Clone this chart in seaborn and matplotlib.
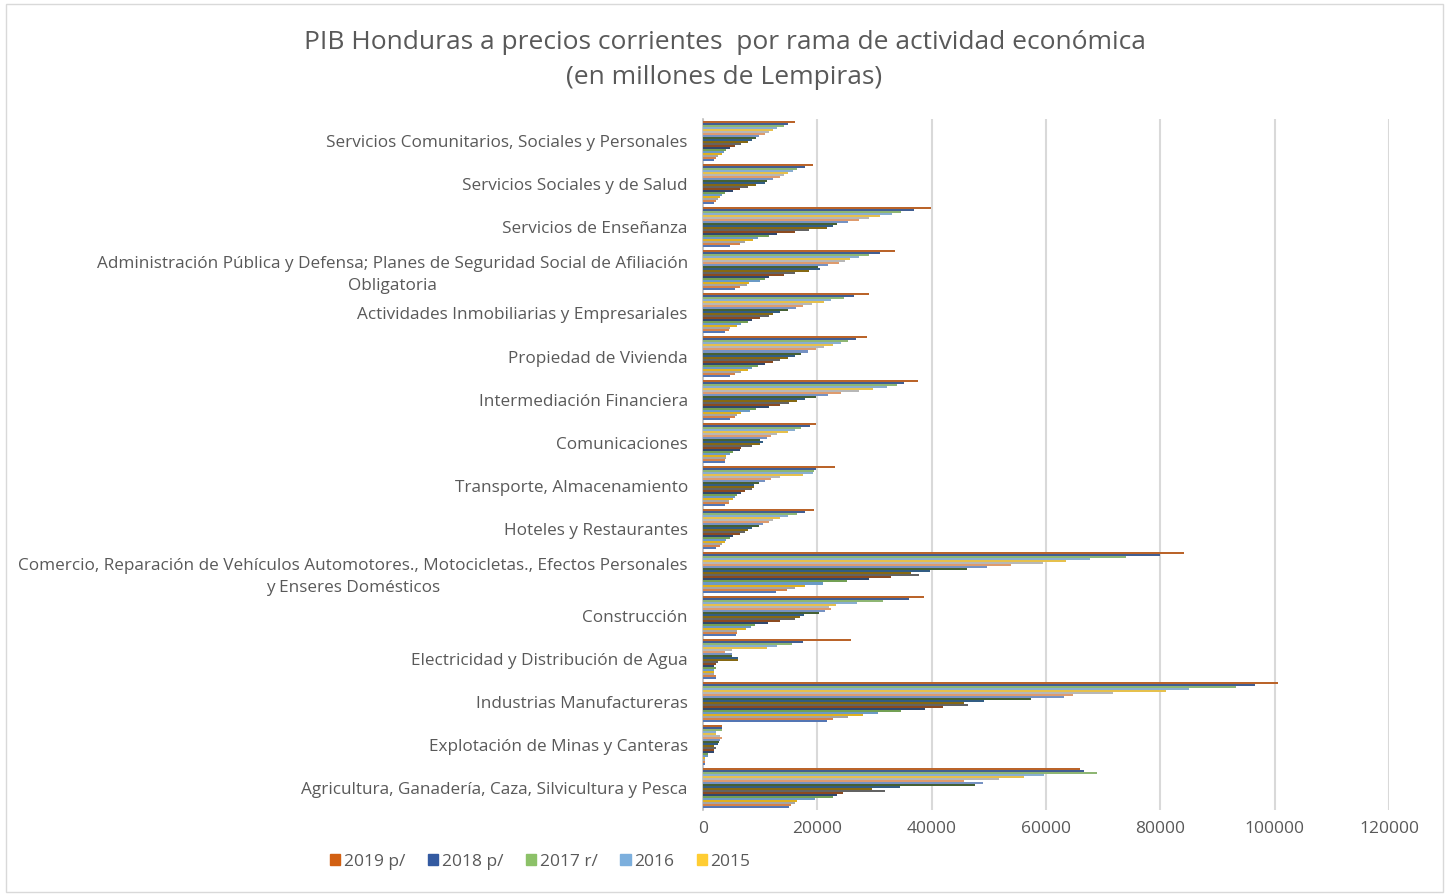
import numpy as np
import pandas as pd
import matplotlib
matplotlib.use('Agg')
import matplotlib.pyplot as plt
import matplotlib.patches as mpatches
import seaborn as sns

# years, top bar of each group first (2019) down to 2000
years = ['2019 p/', '2018 p/', '2017 r/', '2016', '2015', '2014', '2013', '2012', '2011', '2010',
         '2009', '2008', '2007', '2006', '2005', '2004', '2003', '2002', '2001', '2000']

year_colors = ['#D26012', '#335AA1', '#8CC168', '#7CAFDD', '#FFCD33', '#B7B7B7', '#F1975A', '#698ED0',
               '#43682B', '#255E91', '#997300', '#636363', '#9E480E', '#264478', '#70AD47', '#5B9BD5',
               '#FFC000', '#A5A5A5', '#ED7D31', '#4472C4']

ramas = [
    'Servicios Comunitarios, Sociales y Personales',
    'Servicios Sociales y de Salud',
    'Servicios de Enseñanza',
    'Administración Pública y Defensa; Planes de Seguridad Social de Afiliación\nObligatoria',
    'Actividades Inmobiliarias y Empresariales',
    'Propiedad de Vivienda',
    'Intermediación Financiera',
    'Comunicaciones',
    'Transporte, Almacenamiento',
    'Hoteles y Restaurantes',
    'Comercio, Reparación de Vehículos Automotores., Motocicletas., Efectos Personales\ny Enseres Domésticos',
    'Construcción',
    'Electricidad y Distribución de Agua',
    'Industrias Manufactureras',
    'Explotación de Minas y Canteras',
    'Agricultura, Ganadería, Caza, Silvicultura y Pesca',
]

# values per rama, 2019 -> 2000 (millones de Lempiras)
comunitarios = [16000, 14900, 14200, 13000, 12300, 11600, 10900, 9700, 9300, 8600,
                7900, 6700, 5600, 4800, 4100, 3700, 3400, 2700, 2300, 1900]
salud = [19200, 17800, 16400, 15700, 14900, 14200, 13400, 12300, 11200, 10800,
         9300, 7900, 6400, 5200, 3800, 3400, 3000, 2600, 2200, 1900]
ensenanza = [39900, 36900, 34600, 33000, 30900, 29000, 27200, 25300, 23500, 22700,
             21600, 18600, 16000, 13000, 11600, 9600, 8700, 7400, 6400, 4800]
administracion = [33500, 30900, 29000, 27200, 25700, 24900, 23800, 21900, 20100, 20400,
                  18600, 16000, 14200, 11500, 10800, 10000, 8100, 7700, 6400, 5600]
inmobiliarias = [29000, 26400, 24700, 22300, 21200, 19000, 17500, 16200, 14900, 13400,
                 12300, 11600, 10000, 8600, 7900, 6700, 6000, 4800, 4500, 3800]
vivienda = [28700, 26800, 25300, 24200, 22700, 21200, 19700, 18300, 17200, 16100,
            14900, 13500, 12300, 10800, 9600, 8600, 7900, 6700, 5600, 4800]
financiera = [37600, 35100, 33900, 32100, 29800, 27200, 24200, 21900, 19700, 17900,
              16400, 15000, 13400, 11600, 9300, 8200, 6700, 6000, 5600, 4800]
comunicaciones = [19700, 18700, 17100, 16000, 14900, 13000, 11900, 11200, 10000, 10400,
                  10000, 8600, 6700, 6400, 5200, 4800, 4100, 4100, 3800, 3800]
transporte = [23100, 19700, 19400, 19300, 17500, 13400, 11900, 10800, 9700, 8900,
              8900, 8600, 7400, 6700, 6000, 5600, 5200, 4500, 4500, 3800]
hoteles = [19400, 17900, 16400, 14900, 13400, 12300, 11600, 10400, 9700, 8600,
           7800, 7400, 6400, 5200, 4800, 4100, 3800, 3400, 3000, 2200]
comercio = [84200, 80000, 74000, 67700, 63500, 59500, 53900, 49700, 46100, 39700,
            36300, 37800, 32900, 29100, 25100, 20900, 17900, 16000, 14600, 12700]
construccion = [38600, 36000, 31500, 26900, 23200, 22000, 22400, 21300, 20200, 17600,
                16900, 16100, 13500, 11300, 9000, 8300, 7500, 6000, 6000, 5800]
electricidad = [25800, 17500, 15600, 13000, 11100, 5000, 3900, 5000, 5000, 6100,
                6100, 2700, 2200, 1900, 2200, 1900, 1900, 1900, 2200, 2200]
industrias = [100600, 96600, 93200, 85000, 81000, 71700, 64800, 63200, 57400, 49200,
              45600, 46400, 42000, 38800, 34700, 30600, 28000, 25400, 22800, 21700]
minas = [3400, 3400, 3400, 2200, 2200, 3000, 3400, 3000, 2800, 2600,
         1900, 2300, 1900, 1900, 800, 800, 400, 400, 400, 300]
agricultura = [65900, 66600, 68900, 59600, 56100, 51700, 45600, 49000, 47500, 34400,
               29600, 31800, 24400, 23500, 22800, 19500, 16500, 16000, 15300, 15000]

series = [comunitarios, salud, ensenanza, administracion, inmobiliarias, vivienda, financiera,
          comunicaciones, transporte, hoteles, comercio, construccion, electricidad,
          industrias, minas, agricultura]

rows = []
for rama, vals in zip(ramas, series):
    for anio, v in zip(years, vals):
        rows.append({'rama': rama, 'anio': anio, 'valor': v})
df = pd.DataFrame(rows)

sns.set_style('white')
plt.rcParams['font.family'] = ['Open Sans', 'DejaVu Sans']
gray = '#595959'

fig = plt.figure(figsize=(14.49, 8.96), dpi=100)
ax = fig.add_axes([0.4852, 0.096, 0.4734, 0.7712])

sns.barplot(data=df, x='valor', y='rama', hue='anio', order=ramas, hue_order=years,
            palette=year_colors, orient='h', width=0.93, dodge=True, ax=ax,
            edgecolor='none', linewidth=0, errorbar=None, zorder=3)

ax.set_xlim(0, 120000)
ax.set_xticks(range(0, 120001, 20000))
ax.set_xticklabels([str(t) for t in range(0, 120001, 20000)])
ax.grid(axis='x', color='#D9D9D9', linewidth=1.5, zorder=0)
ax.set_axisbelow(True)
for s in ['top', 'right', 'bottom']:
    ax.spines[s].set_visible(False)
ax.spines['left'].set_color('#BFBFBF')
ax.spines['left'].set_linewidth(1.2)
ax.set_xlabel('')
ax.set_ylabel('')
ax.tick_params(axis='y', length=0, pad=11, labelsize=12.3, labelcolor=gray)
ax.tick_params(axis='x', length=0, pad=8, labelsize=12.5, labelcolor=gray)
for lab in ax.get_yticklabels():
    lab.set_multialignment('center')
    lab.set_linespacing(1.45)

ax.get_legend().remove()
handles = [mpatches.Patch(color=c) for c in year_colors[:5]]
fig.legend(handles, years[:5], loc='center left', bbox_to_anchor=(0.217, 0.038), ncol=5,
           frameon=False, fontsize=12.5, labelcolor=gray, handlelength=0.6, handleheight=0.6,
           handletextpad=0.2, columnspacing=1.3)

fig.text(0.5, 0.953, 'PIB Honduras a precios corrientes  por rama de actividad económica',
         ha='center', va='center', fontsize=19, color=gray)
fig.text(0.5, 0.914, '(en millones de Lempiras)', ha='center', va='center', fontsize=19, color=gray)

fig.patches.append(mpatches.Rectangle((0.004, 0.004), 0.992, 0.992, transform=fig.transFigure,
                                      fill=False, edgecolor='#D9D9D9', linewidth=1))

fig.savefig('out.png', dpi=100, facecolor='white')
